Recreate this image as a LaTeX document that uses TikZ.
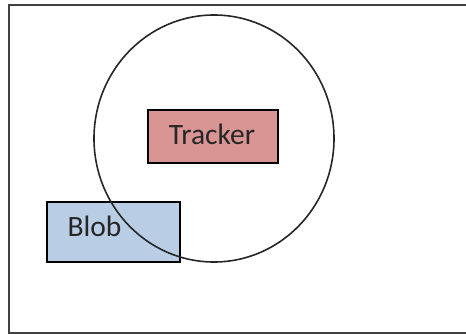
\documentclass[tikz,border=0pt]{standalone}
\usepackage{fontspec}
\setmainfont{Carlito}
\definecolor{trackerfill}{HTML}{D99594}
\definecolor{blobfill}{HTML}{B9CDE5}
\definecolor{framegray}{HTML}{404040}
\begin{document}
\begin{tikzpicture}[x=1pt,y=-1pt,
  box/.style={draw=black,line width=1.7pt,inner sep=0pt},
  label/.style={font=\fontsize{29.5}{34}\selectfont,text=black!85,inner sep=0pt}]
\useasboundingbox (0,0) rectangle (466,334);
% outer frame (right side runs past the page edge)
\draw[framegray,line width=2pt] (472,5) -- (9,5) -- (9,332.5) -- (472,332.5);
% blob rectangle
\node[box,fill=blobfill,minimum width=133pt,minimum height=60pt,anchor=north west] (blob) at (46,201) {};
\node[label,anchor=base west] (bloblabel) at (67.3,236) {Blob};
% search region around the tracker
\draw[black!85,line width=1.6pt] (214,138.5) ellipse [x radius=120,y radius=123.5];
% tracker rectangle
\node[box,fill=trackerfill,minimum width=130.5pt,minimum height=53pt,anchor=north west] (tracker) at (146.8,109) {};
\node[label,anchor=base] (trackerlabel) at (212,145) {Tracker};
\end{tikzpicture}
\end{document}
